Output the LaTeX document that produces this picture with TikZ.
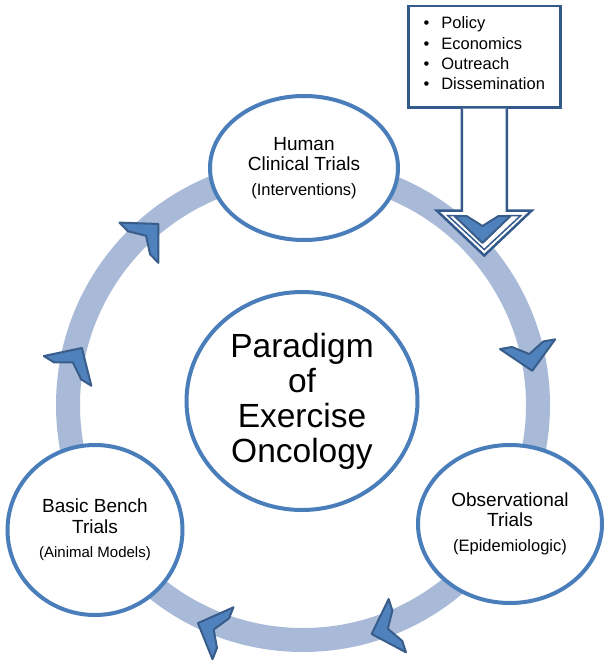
\documentclass[tikz,border=0pt]{standalone}
\usepackage{fontspec}
\setmainfont{Liberation Sans}
\usetikzlibrary{shapes.geometric}

\definecolor{ringblue}{RGB}{168,186,216}
\definecolor{edgeblue}{RGB}{74,126,187}
\definecolor{chevfill}{RGB}{79,129,189}
\definecolor{chevline}{RGB}{56,93,138}
\definecolor{boxline}{RGB}{52,90,140}

% one chevron on the ring: #1 = position, #2 = direction
\newcommand{\ringmark}[2]{%
  \draw[chevmark, shift={#1}, rotate=#2]
    (13,0) -- (-14,28) -- (-14,16) -- (-4,0) -- (-14,-16) -- (-14,-28) -- cycle;}

\begin{document}
\begin{tikzpicture}[x=1pt, y=1pt,
  stage/.style={ellipse, draw=edgeblue, line width=4pt, fill=white, inner sep=0pt, align=center},
  chevmark/.style={fill=chevfill, draw=chevline, line width=2pt, line join=round},
  listbox/.style={rectangle, draw=boxline, line width=2.5pt, fill=white, inner sep=0pt, align=left},
  bigarrow/.style={draw=boxline, line width=2.5pt, fill=white, line join=miter}]

  \useasboundingbox (0,0) rectangle (610,-661);

  % The cycle ring
  \draw[ringblue, line width=24pt] (303,-405) circle (235);

  % Define node positions
  \node[stage, minimum width=188pt, minimum height=144pt, font=\fontsize{19}{20}\selectfont] (human) at (304,-168)
    {Human\\Clinical Trials\\[5pt]\fontsize{16.5}{20}\selectfont(Interventions)};
  \node[stage, minimum width=184pt, minimum height=158pt, font=\fontsize{19}{20}\selectfont] (obs) at (510,-524)
    {Observational\\Trials\\[5pt]\fontsize{16.5}{20}\selectfont(Epidemiologic)};
  \node[stage, minimum width=175pt, minimum height=170pt, font=\fontsize{19}{21}\selectfont] (bench) at (95,-530)
    {Basic Bench\\Trials\\[3pt]\fontsize{15}{21}\selectfont(Ainimal Models)};
  \node[stage, minimum width=231pt, minimum height=218pt, font=\fontsize{33.5}{35}\selectfont] (paradigm) at (302,-401)
    {Paradigm\\of\\Exercise\\Oncology};

  % Chevrons along the ring
  \ringmark{(149,-233)}{44}
  \ringmark{(75,-359)}{58}
  \ringmark{(530,-358)}{-80}
  \ringmark{(384,-630)}{198}
  \ringmark{(210,-628)}{158}

  % Box with the outside factors
  \node[listbox, anchor=north west, minimum width=152pt, minimum height=101pt, text depth=7pt,
        font=\fontsize{16.5}{20.3}\selectfont] (policy) at (407,-5)
    {\textbullet\hspace{12pt}Policy\\
     \textbullet\hspace{12pt}Economics\\
     \textbullet\hspace{12pt}Outreach\\
     \textbullet\hspace{12pt}Dissemination};

  % Draw the big arrow
  \draw[bigarrow] ([xshift=-22.5pt]policy.south) -- ++(0,-102) -- ++(-25,0) -- ++(47.5,-45)
    coordinate (tip) -- ++(47.5,45) -- ++(-25,0) -- ([xshift=22.5pt]policy.south);
  \draw[boxline, line width=1.5pt, line join=miter] ([shift={(-22.5,-107)}]policy.south) -- ++(-14,0)
    -- ([yshift=6pt]tip) -- ++(36.5,34) -- ++(-14,0);
  \ringmark{(482.5,-230)}{-90}

\end{tikzpicture}
\end{document}
